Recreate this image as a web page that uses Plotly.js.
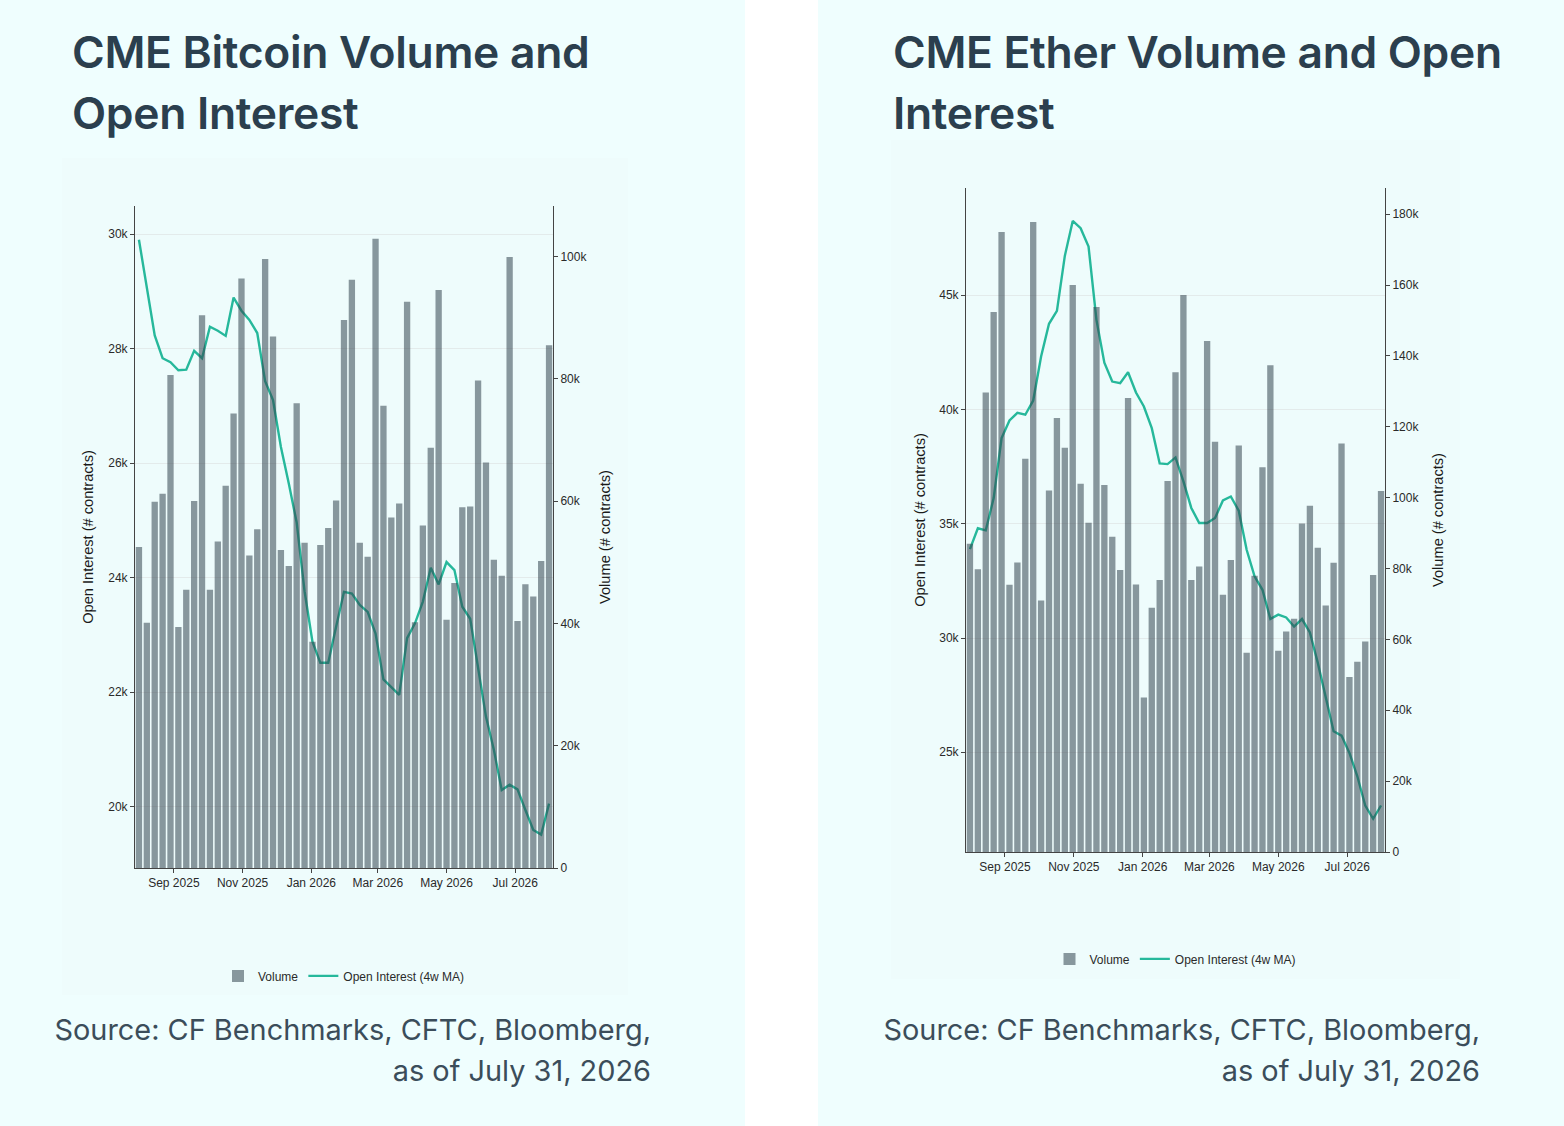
<!DOCTYPE html>
<html>
<head>
<meta charset="utf-8">
<script src="https://cdn.plot.ly/plotly-3.0.1.min.js"></script>
<style>
  html, body { margin:0; padding:0; background:#ffffff; }
  body { width:1564px; height:1126px; position:relative; overflow:hidden; font-family: Inter, "Noto Sans", sans-serif; }
  .panel { position:absolute; top:0; height:1126px; background:#effefe; }
  .title { position:absolute; font-family: Inter, sans-serif; font-weight:600; font-size:44.4px; line-height:61px; color:#2b3f4e; letter-spacing:-0.3px; white-space:nowrap; }
  .source { position:absolute; font-family: Inter, sans-serif; font-weight:400; font-size:28.9px; line-height:41px; color:#3b4d5a; text-align:right; white-space:nowrap; }
  .chart { position:absolute; }
</style>
</head>
<body>
<div class="panel" style="left:0; width:745px;"></div>
<div class="panel" style="left:818px; width:746px;"></div>

<div class="title" style="left:72px; top:22px;">CME Bitcoin Volume and<br>Open Interest</div>
<div class="title" style="left:893px; top:22px;">CME Ether Volume and Open<br>Interest</div>

<div id="btc" class="chart" style="left:62px; top:158px; width:566px; height:837px;"></div>
<div id="eth" class="chart" style="left:891px; top:140px; width:569px; height:839px;"></div>

<div class="source" style="right:913px; top:1009px;">Source: CF Benchmarks, CFTC, Bloomberg,<br>as of July 31, 2026</div>
<div class="source" style="right:84px; top:1009px;">Source: CF Benchmarks, CFTC, Bloomberg,<br>as of July 31, 2026</div>

<script>
// Weekly dates (Fridays), 2025-08-01 .. 2026-07-31
const weekDates = ["2025-08-01","2025-08-08","2025-08-15","2025-08-22","2025-08-29","2025-09-05","2025-09-12","2025-09-19","2025-09-26","2025-10-03","2025-10-10","2025-10-17","2025-10-24","2025-10-31","2025-11-07","2025-11-14","2025-11-21","2025-11-28","2025-12-05","2025-12-12","2025-12-19","2025-12-26","2026-01-02","2026-01-09","2026-01-16","2026-01-23","2026-01-30","2026-02-06","2026-02-13","2026-02-20","2026-02-27","2026-03-06","2026-03-13","2026-03-20","2026-03-27","2026-04-03","2026-04-10","2026-04-17","2026-04-24","2026-05-01","2026-05-08","2026-05-15","2026-05-22","2026-05-29","2026-06-05","2026-06-12","2026-06-19","2026-06-26","2026-07-03","2026-07-10","2026-07-17","2026-07-24","2026-07-31"];

// CME Bitcoin
const btcVolume = [52500,40100,59900,61200,80600,39400,45500,60000,90400,45500,53400,62500,74300,96400,51100,55400,99600,86900,52000,49400,76000,53200,37000,52800,55600,60100,89600,96200,53200,50900,102900,75600,57300,59600,92600,40200,56000,68700,94500,40600,46600,59000,59100,79700,66300,50400,47800,99900,40400,46400,44400,50200,85500];
const btcOpenInterest = [29900,29080,28230,27830,27760,27620,27630,27960,27830,28380,28310,28220,28890,28660,28500,28270,27430,27100,26280,25640,24960,23760,22880,22510,22510,23140,23750,23720,23520,23400,23020,22220,22090,21950,22940,23200,23580,24170,23880,24270,24130,23490,23280,22440,21570,20990,20290,20380,20300,19940,19590,19510,20050];

// CME Ether
const ethVolume = [87000,79800,129700,152400,175000,75400,81700,111000,177800,71000,102000,122500,114100,160000,103900,92900,153800,103600,89000,79600,128100,75500,43600,68900,76800,104700,135400,157200,76800,80600,144200,115800,72600,82400,114700,56200,78000,108600,137400,56800,62200,65800,92700,97700,85900,69600,81600,115300,49400,53700,59400,78200,101900];
const ethOpenInterest = [33890,34800,34710,36120,38750,39520,39850,39770,40390,42320,43750,44310,46720,48250,47930,47130,43920,42050,41220,41150,41630,40740,40130,39180,37640,37610,37900,36850,35690,35030,35030,35250,36020,36190,35570,33860,32700,32110,30830,31020,30900,30500,30830,30240,28910,27450,25920,25730,24970,23950,22670,22090,22670];

const seriesNames = ["Volume", "Open Interest (4w MA)"];

const barColor = "rgba(51,67,78,0.55)";
const lineColor = "#26b89b";
const paperColor = "#eefcfc";
const fontFam = "Liberation Sans, Arial, sans-serif";
const tickFont = {family:fontFam, size:12, color:"#2a2a2a"};
const axisTitleFont = {family:fontFam, size:14.6, color:"#1a1a1a"};

function makeChart(id, vol, oi, yRange, y2Range, yTicks, y2Ticks, m) {
  const traces = [
    {type:"bar", x:weekDates, y:vol, name:seriesNames[0], yaxis:"y2",
     marker:{color:barColor}},
    {type:"scatter", mode:"lines", x:weekDates, y:oi, name:seriesNames[1], yaxis:"y",
     line:{color:lineColor, width:2.4}}
  ];
  const layout = {
    width: m.w, height: m.h,
    margin:{l:m.l, r:m.r, t:m.t, b:m.b, pad:0, autoexpand:false},
    paper_bgcolor: paperColor, plot_bgcolor: paperColor,
    bargap:0.2,
    showlegend:true,
    legend:{orientation:"h", x:0.5, xanchor:"center", y:m.legY, yanchor:"middle",
            font:{family:fontFam, size:12, color:"#2a2a2a"},
            traceorder:"normal", bgcolor:"rgba(0,0,0,0)", itemwidth:30},
    xaxis:{type:"date", range:["2025-07-28 12:00","2026-08-03 12:00"],
           tickformat:"%b %Y", dtick:"M2", tick0:"2025-09-01",
           ticks:"outside", ticklen:4, tickcolor:"#444", showline:true, linecolor:"#444", linewidth:1,
           showgrid:false, zeroline:false, tickfont:tickFont, automargin:false},
    yaxis:{range:yRange, tickvals:yTicks.vals, ticktext:yTicks.text,
           ticks:"outside", ticklen:4, tickcolor:"#444", showline:true, linecolor:"#444", linewidth:1,
           showgrid:true, gridcolor:"#e3ebeb", gridwidth:1, zeroline:false, tickfont:tickFont, automargin:false,
           title:{text:"Open Interest (# contracts)", font:axisTitleFont, standoff:m.so1}},
    yaxis2:{range:y2Range, overlaying:"y", side:"right", tickvals:y2Ticks.vals, ticktext:y2Ticks.text,
           ticks:"outside", ticklen:4, tickcolor:"#444", showline:true, linecolor:"#444", linewidth:1,
           showgrid:false, zeroline:false, tickfont:tickFont, automargin:false,
           title:{text:"Volume (# contracts)", font:axisTitleFont, standoff:m.so2}}
  };
  Plotly.newPlot(id, traces, layout, {staticPlot:true, displayModeBar:false});
}

makeChart("btc", btcVolume, btcOpenInterest, [18926, 30489], [0, 108250],
  {vals:[20000,22000,24000,26000,28000,30000], text:["20k","22k","24k","26k","28k","30k"]},
  {vals:[0,20000,40000,60000,80000,100000], text:["0","20k","40k","60k","80k","100k"]},
  {w:566, h:837, l:73, r:75, t:48, b:127, legY:-0.163, so1:11, so2:13});

makeChart("eth", ethVolume, ethOpenInterest, [20636, 49690], [0, 187400],
  {vals:[25000,30000,35000,40000,45000], text:["25k","30k","35k","40k","45k"]},
  {vals:[0,20000,40000,60000,80000,100000,120000,140000,160000,180000], text:["0","20k","40k","60k","80k","100k","120k","140k","160k","180k"]},
  {w:569, h:839, l:75, r:75, t:48, b:127, legY:-0.161, so1:10, so2:14});
</script>
</body>
</html>
